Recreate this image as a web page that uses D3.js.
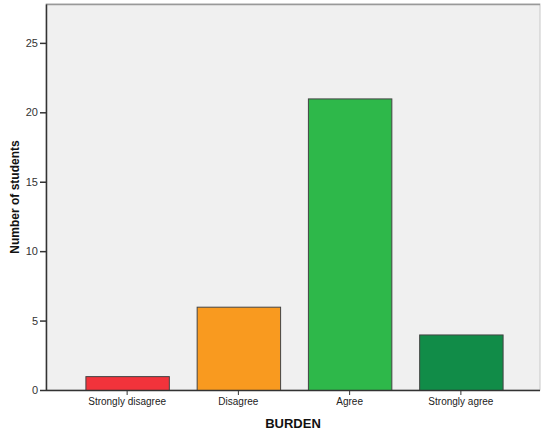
<!DOCTYPE html>
<html><head><meta charset="utf-8">
<script src="https://cdn.jsdelivr.net/npm/d3@7"></script>
<style>body{margin:0;background:#fff}svg{display:block}text{font-family:"Liberation Sans",Arial,sans-serif}</style>
</head><body><svg id="c" width="541" height="434"></svg>
<script>
const categories = ["Strongly disagree", "Disagree", "Agree", "Strongly agree"];
const counts = [1, 6, 21, 4];
const colors = ["#f2333b", "#f99a1f", "#2eb84a", "#118c48"];
const yTicks = [0, 5, 10, 15, 20, 25];
const xTitle = "BURDEN";
const yTitle = "Number of students";

const svg = d3.select("#c");
const L = 46, R = 540, T = 4, B = 390;
const y = d3.scaleLinear().domain([0, 27.8]).range([B, T]);
const x = d3.scaleBand().domain(categories).range([71.5, 516.5]).paddingInner(0.25).paddingOuter(0.125);

svg.append("rect").attr("x", L).attr("y", T).attr("width", R - L).attr("height", B - T)
  .attr("fill", "#f0f0f0").attr("stroke", "#c8c8c8").attr("stroke-width", 1);
svg.append("line").attr("x1", L).attr("x2", R).attr("y1", T + 0.5).attr("y2", T + 0.5).attr("stroke", "#999").attr("stroke-width", 1.5);

svg.selectAll("rect.bar").data(counts).enter().append("rect").attr("class", "bar")
  .attr("x", (d, i) => x(categories[i]) + 0.5)
  .attr("y", d => y(d) + 0.5)
  .attr("width", x.bandwidth())
  .attr("height", d => B - y(d))
  .attr("fill", (d, i) => colors[i])
  .attr("stroke", "#444").attr("stroke-width", 1);

const ya = svg.append("g").attr("transform", `translate(${L},0)`)
  .call(d3.axisLeft(y).tickValues(yTicks).tickSize(6).tickSizeOuter(0).tickPadding(2));
ya.select(".domain").attr("stroke", "#333").attr("stroke-width", 1.5);
ya.selectAll(".tick line").attr("stroke", "#333").attr("stroke-width", 1.5);
ya.selectAll("text").attr("font-size", 11).attr("fill", "#333");

const xa = svg.append("g").attr("transform", `translate(0,${B})`)
  .call(d3.axisBottom(x).tickSize(5).tickPadding(3).tickSizeOuter(0));
xa.select(".domain").attr("d", `M${L},0.5H${R}`).attr("stroke", "#333").attr("stroke-width", 1.5);
xa.selectAll(".tick line").attr("stroke", "#333");
xa.selectAll("text").attr("font-size", 10).attr("fill", "#222");

svg.append("text").attr("x", 293).attr("y", 428).attr("text-anchor", "middle")
  .attr("font-weight", "bold").attr("font-size", 13).attr("fill", "#111").text(xTitle);
svg.append("text").attr("transform", "translate(19,197) rotate(-90)").attr("text-anchor", "middle")
  .attr("font-weight", "bold").attr("font-size", 12).attr("fill", "#111").text(yTitle);
</script></body></html>
